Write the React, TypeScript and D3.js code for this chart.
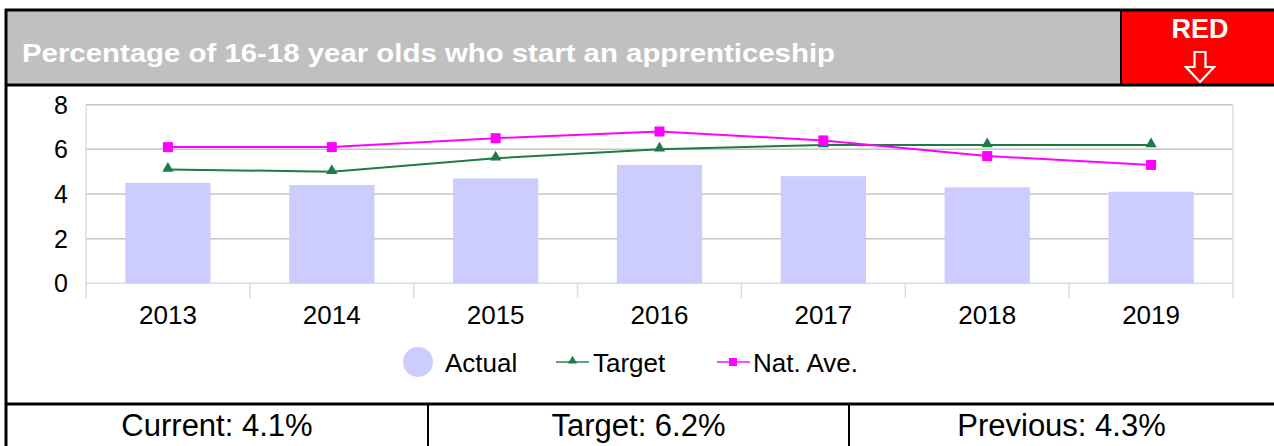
import React from "react";
import * as d3 from "d3";

const years = ["2013", "2014", "2015", "2016", "2017", "2018", "2019"];
const actual = [4.5, 4.4, 4.7, 5.3, 4.8, 4.3, 4.1];
const target = [5.1, 5.0, 5.6, 6.0, 6.2, 6.2, 6.2];
const natAve = [6.1, 6.1, 6.5, 6.8, 6.4, 5.7, 5.3];
const yTicks = [0, 2, 4, 6, 8];
const titleText = "Percentage of 16-18 year olds who start an apprenticeship";
const ratingText = "RED";
const summary = ["Current: 4.1%", "Target: 6.2%", "Previous: 4.3%"];
const legendItems = ["Actual", "Target", "Nat. Ave."];

const W = 1274;
const H = 446;
const FONT = "'Liberation Sans', Arial, sans-serif";

export default function App() {
  const plotL = 86, plotR = 1233, plotT = 104.7, plotB = 283.3;
  const x = d3.scaleBand<string>().domain(years).range([plotL, plotR]).paddingInner(0.48).paddingOuter(0.24);
  const y = d3.scaleLinear().domain([0, 8]).range([plotB, plotT]);
  const step = x.step();
  const cx = (d: string) => (x(d) as number) + x.bandwidth() / 2;
  const lineGen = d3.line<number>().x((_, i) => cx(years[i])).y((v) => y(v));
  const green = "#1e7b45";
  const pink = "#ff00ff";
  const barFill = "#ccccff";
  const tri = d3.symbol().type(d3.symbolTriangle).size(55)();
  const triSmall = d3.symbol().type(d3.symbolTriangle).size(35)();

  const cells = [6, 428, 849, W];

  return (
    <svg width={W} height={H} style={{ position: "absolute", left: 0, top: 0, background: "#fff" }} fontFamily={FONT}>
      {/* header */}
      <rect x={6} y={10} width={1115} height={75} fill="#c0c0c0" />
      <rect x={1121} y={10} width={W - 1121} height={75} fill="#ff0000" />
      <text x={22} y={62} fill="#fff" fontWeight="bold" fontSize={26} textLength={813} lengthAdjust="spacingAndGlyphs">{titleText}</text>
      <text x={1200} y={38} fill="#fff" fontWeight="bold" fontSize={27} textAnchor="middle">{ratingText}</text>
      <path d="M1194.5,52 L1205.5,52 L1205.5,67 L1214,67 L1200,82 L1186,67 L1194.5,67 Z" fill="none" stroke="#fff" strokeWidth={2.2} />

      {/* gridlines */}
      {yTicks.map((t) => (
        <line key={t} x1={plotL} x2={plotR} y1={y(t)} y2={y(t)} stroke={t === 0 ? "#d4dced" : "#c4c4c4"} strokeWidth={1.5} />
      ))}
      {yTicks.map((t) => (
        <text key={"yl" + t} x={68} y={y(t) + 9} textAnchor="end" fontSize={25} fill="#000">{t}</text>
      ))}
      {/* axes */}
      <line x1={plotL} x2={plotL} y1={plotT} y2={plotB + 15} stroke="#d4dced" strokeWidth={1.5} />
      <line x1={plotR} x2={plotR} y1={plotT} y2={plotB + 15} stroke="#d4dced" strokeWidth={1.5} />
      {d3.range(1, years.length).map((i) => (
        <line key={"tk" + i} x1={plotL + i * step} x2={plotL + i * step} y1={plotB} y2={plotB + 15} stroke="#d4dced" strokeWidth={1.5} />
      ))}

      {/* bars */}
      {years.map((yr, i) => (
        <rect key={yr} x={x(yr)} y={y(actual[i])} width={x.bandwidth()} height={plotB - y(actual[i])} fill={barFill} />
      ))}

      {/* lines */}
      <path d={lineGen(target) || ""} fill="none" stroke={green} strokeWidth={2} />
      {target.map((v, i) => (
        <path key={"t" + i} d={tri || ""} transform={`translate(${cx(years[i])},${y(v) - 1})`} fill={green} />
      ))}
      <path d={lineGen(natAve) || ""} fill="none" stroke={pink} strokeWidth={2} />
      {natAve.map((v, i) => (
        <rect key={"n" + i} x={cx(years[i]) - 5} y={y(v) - 5} width={10} height={10} fill={pink} />
      ))}

      {/* x labels */}
      {years.map((yr) => (
        <text key={"xl" + yr} x={cx(yr)} y={324} textAnchor="middle" fontSize={26} fill="#000">{yr}</text>
      ))}

      {/* legend */}
      <circle cx={418} cy={362} r={15} fill={barFill} />
      <text x={445} y={372} fontSize={26} fill="#000">{legendItems[0]}</text>
      <line x1={556} x2={589} y1={362} y2={362} stroke={green} strokeWidth={2} opacity={0.7} />
      <path d={triSmall || ""} transform="translate(572.5,361)" fill={green} />
      <text x={593} y={372} fontSize={26} fill="#000">{legendItems[1]}</text>
      <line x1={717} x2={750} y1={362} y2={362} stroke={pink} strokeWidth={2} opacity={0.7} />
      <rect x={729} y={358} width={8} height={8} fill={pink} />
      <text x={753} y={372} fontSize={26} fill="#000">{legendItems[2]}</text>

      {/* bottom table */}
      {summary.map((s, i) => (
        <text key={s} x={(cells[i] + cells[i + 1]) / 2} y={436} textAnchor="middle" fontSize={31} fill="#000">{s}</text>
      ))}

      {/* borders */}
      <line x1={5} x2={W} y1={10} y2={10} stroke="#000" strokeWidth={3} />
      <line x1={5} x2={W} y1={85} y2={85} stroke="#000" strokeWidth={3} />
      <line x1={5} x2={W} y1={404} y2={404} stroke="#000" strokeWidth={3} />
      <line x1={6} x2={6} y1={9} y2={H} stroke="#000" strokeWidth={3} />
      <line x1={1121} x2={1121} y1={10} y2={85} stroke="#000" strokeWidth={2} />
      <line x1={428} x2={428} y1={404} y2={H} stroke="#000" strokeWidth={2} />
      <line x1={849} x2={849} y1={404} y2={H} stroke="#000" strokeWidth={2} />
    </svg>
  );
}
